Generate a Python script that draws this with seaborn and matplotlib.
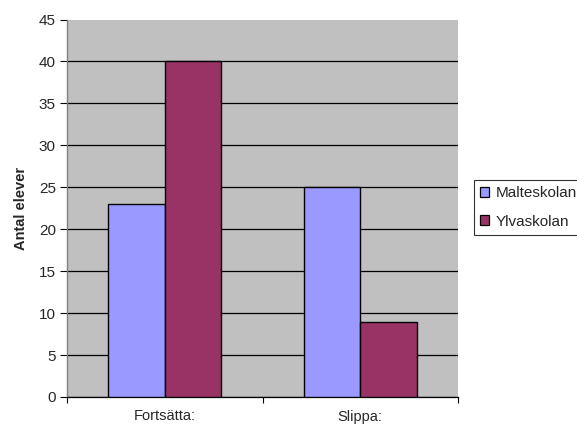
import matplotlib
matplotlib.use("Agg")
import matplotlib.pyplot as plt
import seaborn as sns
import pandas as pd
from matplotlib.patches import Patch
from matplotlib.ticker import FixedLocator, NullFormatter

categories = ["Fortsätta:", "Slippa:"]
schools = ["Malteskolan", "Ylvaskolan"]
malte = [23, 25]
ylva = [40, 9]
colors = ["#9999FF", "#993366"]

df = pd.DataFrame({
    "Kategori": categories * 2,
    "Skola": [schools[0]] * 2 + [schools[1]] * 2,
    "Antal": malte + ylva,
})

sns.set_style("white")
plt.rcParams["font.family"] = ["Liberation Sans", "DejaVu Sans"]

fig = plt.figure(figsize=(5.77, 4.26), dpi=100)
ax = fig.add_axes([67 / 577, 1 - 397 / 426, (458 - 67) / 577, (397 - 19.5) / 426])
ax.set_facecolor("#C0C0C0")

sns.barplot(data=df, x="Kategori", y="Antal", hue="Skola", palette=colors,
            saturation=1, width=0.58, edgecolor="black", linewidth=1.0, ax=ax,
            legend=False, zorder=3)

ax.set_ylim(0, 45)
ax.set_xlim(-0.5, 1.5)
ax.set_yticks(range(0, 46, 5))
ax.yaxis.grid(True, color="black", linewidth=0.9, zorder=0)
ax.get_ygridlines()[-1].set_visible(False)
ax.set_axisbelow(True)
ax.tick_params(axis="y", which="major", direction="out", length=5, width=0.8,
               color="black", labelsize=11, pad=3, left=True)
ax.tick_params(axis="x", which="major", length=0, labelsize=10.5, pad=9)
ax.xaxis.set_minor_locator(FixedLocator([-0.5, 0.5, 1.5]))
ax.xaxis.set_minor_formatter(NullFormatter())
ax.tick_params(axis="x", which="minor", direction="out", length=4, width=0.8,
               color="black", bottom=True)

for side in ["top", "right"]:
    ax.spines[side].set_visible(False)
ax.spines["left"].set_color("#808080")
ax.spines["left"].set_linewidth(1.0)
ax.spines["bottom"].set_color("black")
ax.spines["bottom"].set_linewidth(0.9)

ax.set_xlabel("")
ax.set_ylabel("Antal elever", fontsize=10.5, fontweight="bold", labelpad=8)

handles = [Patch(facecolor=c, edgecolor="black", linewidth=0.9) for c in colors]
leg = fig.legend(handles, schools, loc="upper left",
                 bbox_to_anchor=(474 / 577, 1 - 180 / 426),
                 fontsize=11, frameon=True, fancybox=False, edgecolor="black",
                 handlelength=0.6, handleheight=0.6, handletextpad=0.4,
                 borderpad=0.4, labelspacing=0.95, borderaxespad=0)
leg.get_frame().set_linewidth(0.8)

fig.savefig("out.png", dpi=100)
